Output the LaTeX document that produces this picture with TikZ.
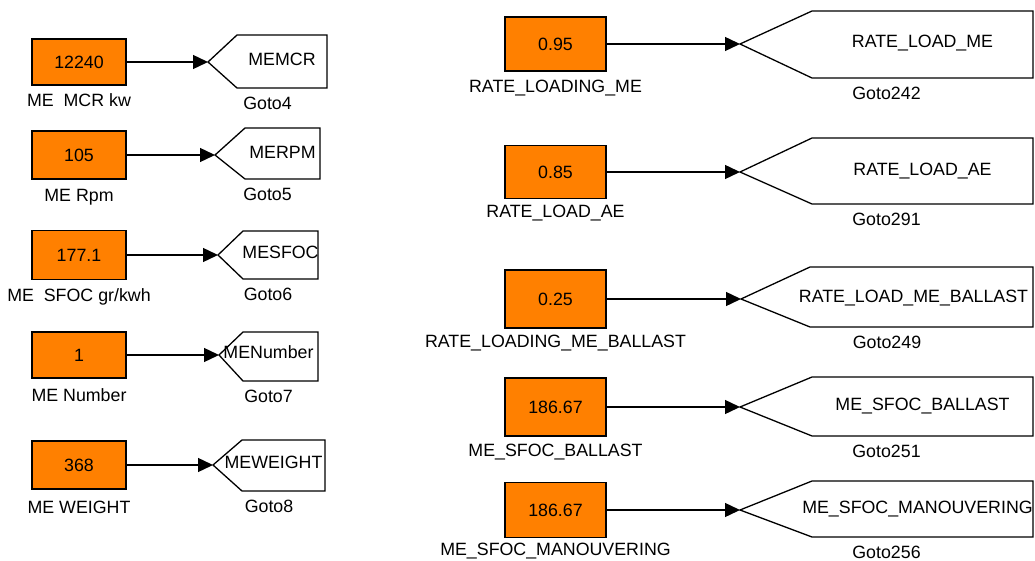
\documentclass[tikz,border=0pt]{standalone}
\usepackage{fontspec}
\setmainfont{Liberation Sans}
\usetikzlibrary{arrows.meta}

\definecolor{simorange}{RGB}{255,128,0}
\newcommand\blkfont{\fontsize{17.8}{20}\selectfont}

\tikzset{
  constbox/.style={draw=black, line width=1.8pt, fill=simorange, inner sep=0pt,
    font=\blkfont, text height=12.7pt, text depth=0pt},
  gotobox/.style={draw=black, line width=1.3pt, fill=white, line join=miter},
  caption/.style={font=\blkfont, inner sep=0pt, text height=12.7pt, text depth=0pt},
  link/.style={line width=1.4pt, -{Triangle[length=15pt,width=14pt]}}
}

% constant block: name, centre x, centre y, width, height, value, caption, caption y
\newcommand\constblk[8]{%
  \node[constbox, minimum width=#4pt, minimum height=#5pt] (#1) at (#2,#3) {#6};
  \node[caption] (#1-name) at (#2,#8) {#7};
}
% goto tag: [tag x shift], name, tip x, mid y, corner x, right x, top y, bottom y, tag text
\newcommand\gotoblk[9][0]{%
  \coordinate (#2) at (#3,#4);
  \draw[gotobox] (#2) -- (#5,#7) -- (#6,#7) -- (#6,#8) -- (#5,#8) -- cycle;
  \node[caption] (#2-tag) at ({(#5+#6)/2+#1},{#4-3}) {#9};
  \node[caption] (#2-name) at ({(#3+#6)/2},{#8+15}) {#2};
}

\begin{document}
\begin{tikzpicture}[x=1pt,y=-1pt]
\useasboundingbox (0,0) rectangle (1035,561);

% left column
\constblk{mcr}{79}{62}{94}{46}{12240}{ME\ \ MCR kw}{100}
\gotoblk{Goto4}{208}{62}{237}{327}{35}{88}{MEMCR}
\draw[link] (mcr) -- (Goto4);

\constblk{rpm}{79}{155}{94}{48}{105}{ME Rpm}{195}
\gotoblk{Goto5}{215}{155}{245}{320}{128}{179}{MERPM}
\draw[link] (rpm) -- (Goto5);

\constblk{sfoc}{79}{255}{94}{49}{177.1}{ME\ \ SFOC gr/kwh}{295}
\gotoblk{Goto6}{218}{255}{243}{318}{231}{279}{MESFOC}
\draw[link] (sfoc) -- (Goto6);

\constblk{num}{79}{355}{94}{46}{1}{ME Number}{395}
\gotoblk[-12]{Goto7}{219}{355}{243}{318}{332}{381}{MENumber}
\draw[link] (num) -- (Goto7);

\constblk{wgt}{79}{465}{94}{48}{368}{ME WEIGHT}{507}
\gotoblk[-10]{Goto8}{213}{465}{242}{325}{440}{491}{MEWEIGHT}
\draw[link] (wgt) -- (Goto8);

% right column
\constblk{rlme}{555.5}{44}{101}{54}{0.95}{RATE\_LOADING\_ME}{86}
\gotoblk{Goto242}{740}{44}{812}{1033}{11}{78}{RATE\_LOAD\_ME}
\draw[link] (rlme) -- (Goto242);

\constblk{rlae}{555.5}{172}{101}{53}{0.85}{RATE\_LOAD\_AE}{211}
\gotoblk{Goto291}{740}{172}{812}{1033}{138}{204}{RATE\_LOAD\_AE}
\draw[link] (rlae) -- (Goto291);

\constblk{rlmeb}{555.5}{299}{101}{58}{0.25}{RATE\_LOADING\_ME\_BALLAST}{341}
\gotoblk[-8]{Goto249}{741}{299}{810}{1033}{267}{327}{RATE\_LOAD\_ME\_BALLAST}
\draw[link] (rlmeb) -- (Goto249);

\constblk{sfocb}{555.5}{407}{101}{58}{186.67}{ME\_SFOC\_BALLAST}{450}
\gotoblk{Goto251}{740}{407}{812}{1033}{377}{436}{ME\_SFOC\_BALLAST}
\draw[link] (sfocb) -- (Goto251);

\constblk{sfocm}{555.5}{510}{101}{55}{186.67}{ME\_SFOC\_MANOUVERING}{549}
\gotoblk[-5]{Goto256}{740}{510}{812}{1033}{481}{537}{ME\_SFOC\_MANOUVERING}
\draw[link] (sfocm) -- (Goto256);
\end{tikzpicture}
\end{document}
